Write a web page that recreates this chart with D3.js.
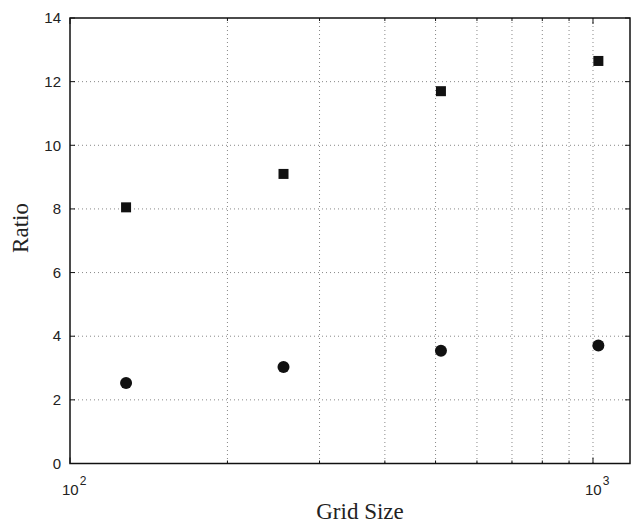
<!DOCTYPE html>
<html lang="en">
<head>
    <meta charset="UTF-8">
    <title>Ratio vs Grid Size</title>
    <script src="https://d3js.org/d3.v7.min.js"></script>
    <style>
        body {
            margin: 0;
            padding: 0;
            background-color: #fff;
        }
        .tick-label {
            font-family: "Liberation Sans", Arial, sans-serif;
            font-size: 15px;
            fill: #222;
        }
        .axis-title {
            font-family: "Liberation Serif", "Times New Roman", serif;
            font-size: 23px;
            fill: #222;
        }
        .grid line {
            stroke: #888;
            stroke-width: 1;
            stroke-dasharray: 1,3;
        }
    </style>
</head>
<body>
    <svg id="chart" width="632" height="524"></svg>

    <script>
        // data
        const gridSizes = [128, 256, 512, 1024];
        const squareRatio = [8.05, 9.1, 11.7, 12.65];
        const circleRatio = [2.53, 3.03, 3.54, 3.71];
        const yTicks = [0, 2, 4, 6, 8, 10, 12, 14];
        const xMajor = [100, 1000];
        const xMinor = [200, 300, 400, 500, 600, 700, 800, 900];

        const width = 632;
        const height = 524;
        const margin = { top: 18, right: 2, bottom: 60.5, left: 70 };
        const innerW = width - margin.left - margin.right;
        const innerH = height - margin.top - margin.bottom;

        const svg = d3.select("#chart");
        const g = svg.append("g")
            .attr("transform", `translate(${margin.left},${margin.top})`);

        const x = d3.scaleLog().domain([100, 1177]).range([0, innerW]);
        const y = d3.scaleLinear().domain([0, 14]).range([innerH, 0]);

        // dotted grid
        const grid = g.append("g").attr("class", "grid");
        grid.selectAll(".gy")
            .data(yTicks.filter(d => d > 0 && d < 14))
            .join("line")
            .attr("x1", 0).attr("x2", innerW)
            .attr("y1", d => y(d)).attr("y2", d => y(d));
        grid.selectAll(".gx")
            .data(xMinor.concat([1000]))
            .join("line")
            .attr("class", "gx")
            .attr("x1", d => x(d)).attr("x2", d => x(d))
            .attr("y1", 0).attr("y2", innerH);

        // ticks pointing inward, on all four sides
        const ticks = g.append("g").attr("stroke", "#111").attr("stroke-width", 1);
        yTicks.forEach(d => {
            ticks.append("line").attr("x1", 0).attr("x2", 5).attr("y1", y(d)).attr("y2", y(d));
            ticks.append("line").attr("x1", innerW).attr("x2", innerW - 5).attr("y1", y(d)).attr("y2", y(d));
        });
        xMinor.forEach(d => {
            ticks.append("line").attr("x1", x(d)).attr("x2", x(d)).attr("y1", innerH).attr("y2", innerH - 3);
            ticks.append("line").attr("x1", x(d)).attr("x2", x(d)).attr("y1", 0).attr("y2", 3);
        });
        xMajor.forEach(d => {
            ticks.append("line").attr("x1", x(d)).attr("x2", x(d)).attr("y1", innerH).attr("y2", innerH - 6);
            ticks.append("line").attr("x1", x(d)).attr("x2", x(d)).attr("y1", 0).attr("y2", 6);
        });

        // box
        g.append("rect")
            .attr("width", innerW)
            .attr("height", innerH)
            .attr("fill", "none")
            .attr("stroke", "#111")
            .attr("stroke-width", 1.5);

        // y tick labels
        g.selectAll(".ylab")
            .data(yTicks)
            .join("text")
            .attr("class", "tick-label")
            .attr("x", -9)
            .attr("y", d => y(d))
            .attr("dy", "0.35em")
            .attr("text-anchor", "end")
            .text(d => d);

        // x tick labels, 10^n
        xMajor.forEach(d => {
            const t = g.append("text")
                .attr("class", "tick-label")
                .attr("x", x(d) - 8)
                .attr("y", innerH + 31)
                .attr("text-anchor", "start");
            t.append("tspan").text("10");
            t.append("tspan")
                .attr("dy", -10)
                .attr("dx", 1)
                .style("font-size", "12px")
                .text(Math.round(Math.log10(d)));
        });

        // markers
        g.selectAll(".sq")
            .data(gridSizes)
            .join("rect")
            .attr("x", (d, i) => x(d) - 5)
            .attr("y", (d, i) => y(squareRatio[i]) - 5)
            .attr("width", 10)
            .attr("height", 10)
            .attr("fill", "#111");

        g.selectAll(".dot")
            .data(gridSizes)
            .join("circle")
            .attr("cx", d => x(d))
            .attr("cy", (d, i) => y(circleRatio[i]))
            .attr("r", 6)
            .attr("fill", "#111");

        // axis titles
        svg.append("text")
            .attr("class", "axis-title")
            .attr("x", 360)
            .attr("y", 519)
            .attr("text-anchor", "middle")
            .text("Grid Size");

        svg.append("text")
            .attr("class", "axis-title")
            .attr("transform", "translate(28,228) rotate(-90)")
            .attr("text-anchor", "middle")
            .text("Ratio");
    </script>
</body>
</html>
